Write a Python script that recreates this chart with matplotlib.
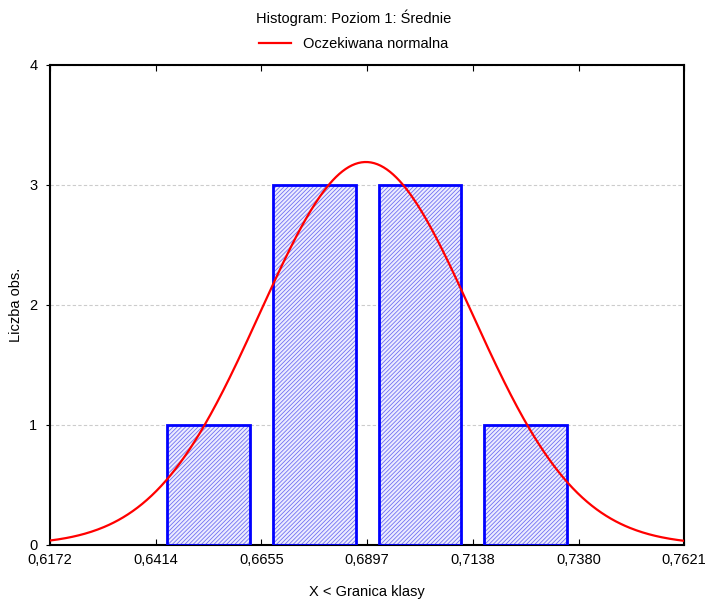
import numpy as np
import matplotlib
matplotlib.use("Agg")
import matplotlib.pyplot as plt
from matplotlib.lines import Line2D

plt.rcParams['font.family'] = ['Liberation Sans', 'DejaVu Sans']
plt.rcParams['hatch.linewidth'] = 0.6

# class boundaries (x ticks) and counts per class
edges = [0.6172, 0.6414, 0.6655, 0.6897, 0.7138, 0.7380, 0.7621]
tick_labels = ['0,6172', '0,6414', '0,6655', '0,6897', '0,7138', '0,7380', '0,7621']
counts = [0, 1, 3, 3, 1, 0]
# expected normal parameters
n_obs = 8
mean = 0.6894
sd = 0.0242

fig = plt.figure(figsize=(7.07, 6.02), dpi=100)
ax = fig.add_axes([50 / 707, 57 / 602, 634 / 707, 480 / 602])

centers = [(a + b) / 2 for a, b in zip(edges[:-1], edges[1:])]
widths = [(b - a) * 0.78 for a, b in zip(edges[:-1], edges[1:])]

for c, w, h in zip(centers, widths, counts):
    if h == 0:
        continue
    ax.bar(c, h, width=w, color='#ececff', edgecolor='#7070f2', hatch='////////',
           linewidth=0, zorder=2)
    ax.bar(c, h, width=w, fill=False, edgecolor='#0000ff', linewidth=2, zorder=3)

binw = edges[1] - edges[0]
xs = np.linspace(edges[0], edges[-1], 400)
ys = n_obs * binw * np.exp(-0.5 * ((xs - mean) / sd) ** 2) / (sd * np.sqrt(2 * np.pi))
ax.plot(xs, ys, color='#ff0000', linewidth=1.6, zorder=4)

ax.set_xlim(edges[0], edges[-1])
ax.set_ylim(0, 4)
ax.set_xticks(edges)
ax.set_xticklabels(tick_labels)
ax.set_yticks([0, 1, 2, 3, 4])
ax.tick_params(axis='x', direction='in', top=True, length=4, labelsize=10.5, pad=6)
ax.tick_params(axis='y', direction='out', length=3, labelsize=10.5, pad=6)
ax.yaxis.grid(True, linestyle=(0, (3, 2)), color='#cccccc', linewidth=0.8, zorder=0)
ax.set_axisbelow(True)
for s in ax.spines.values():
    s.set_linewidth(1.5)

fig.text(367 / 707, 1 - 592 / 602, 'X < Granica klasy', ha='center', va='center', fontsize=10.5)
fig.text(16 / 707, 1 - 305 / 602, 'Liczba obs.', ha='center', va='center', rotation=90, fontsize=10.5)

fig.text(0.5, 1 - 18 / 602, 'Histogram: Poziom 1: Średnie', ha='center', va='center', fontsize=10.5)
handle = Line2D([], [], color='#ff0000', linewidth=1.6)
fig.legend([handle], ['Oczekiwana normalna'], loc='center', bbox_to_anchor=(0.5, 1 - 44 / 602),
           frameon=False, fontsize=10.5, handlelength=2.2)

fig.savefig('out.png', dpi=100)
